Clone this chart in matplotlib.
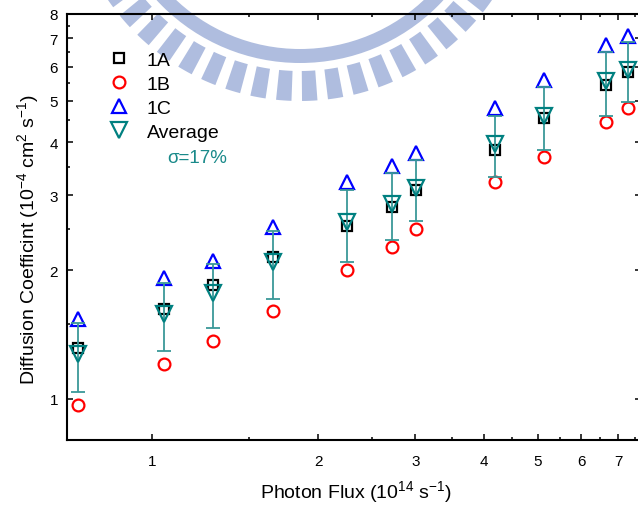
import numpy as np
import matplotlib
matplotlib.use("Agg")
import matplotlib.pyplot as plt
from matplotlib.patches import Wedge
from matplotlib.ticker import FixedLocator, NullFormatter, FixedFormatter

plt.rcParams['font.family'] = ['Liberation Sans', 'DejaVu Sans']
plt.rcParams['mathtext.fontset'] = 'custom'
plt.rcParams['mathtext.rm'] = 'Liberation Sans'
plt.rcParams['mathtext.it'] = 'Liberation Sans:italic'
plt.rcParams['mathtext.bf'] = 'Liberation Sans:bold'

# Photon flux (10^14 s^-1) and diffusion coefficient (10^-4 cm^2 s^-1) of three samples
flux = [0.734, 1.051, 1.290, 1.658, 2.259, 2.716, 3.014, 4.176, 5.145, 6.64, 7.28]
d_1a = [1.315, 1.622, 1.845, 2.144, 2.547, 2.82, 3.09, 3.832, 4.55, 5.43, 5.83]
d_1b = [0.968, 1.207, 1.366, 1.604, 2.00, 2.263, 2.506, 3.226, 3.69, 4.45, 4.80]
d_1c = [1.537, 1.915, 2.099, 2.533, 3.226, 3.516, 3.77, 4.80, 5.58, 6.77, 7.11]

x_ticks = [1, 2, 3, 4, 5, 6, 7]
y_ticks = [1, 2, 3, 4, 5, 6, 7, 8]
minor_ticks = [1.5, 2.5, 3.5, 4.5, 5.5, 6.5, 7.5]

samples = np.array([d_1a, d_1b, d_1c])
d_avg = samples.mean(axis=0)
d_std = samples.std(axis=0)

W, H = 638, 506
fig = plt.figure(figsize=(W / 100, H / 100), dpi=100)

# faint seal in the page background
bg = fig.add_axes([0, 0, 1, 1], zorder=0)
bg.set_xlim(0, W)
bg.set_ylim(H, 0)
bg.axis('off')
seal = '#afbddf'
cx, cy = 300, -131
bg.add_patch(Wedge((cx, cy), 195, 0, 180, width=14, color=seal, lw=0))
for th in np.arange(94.0 - 6.4 * 12, 180, 6.4):
    bg.add_patch(Wedge((cx, cy), 233, th - 1.9, th + 1.9, width=30, color=seal, lw=0))

ax = fig.add_axes([67 / W, (H - 441) / H, 574 / W, 426.3 / H], zorder=1)
ax.set_facecolor('none')
ax.set_xscale('log')
ax.set_yscale('log')
ax.set_xlim(0.7, 7.7)
ax.set_ylim(0.8, 8)

ax.plot(flux, d_1a, 's', ms=7.5, mfc='none', mec='black', mew=1.6, label='1A')
ax.plot(flux, d_1b, 'o', ms=8.5, mfc='none', mec='#ff0000', mew=1.6, label='1B')
ax.plot(flux, d_1c, '^', ms=10.5, mfc='none', mec='#0000ff', mew=1.6, label='1C')
ax.errorbar(flux, d_avg, yerr=d_std, fmt='none', ecolor='#3a9898',
            elinewidth=1.3, capsize=5, capthick=1.3)
ax.plot(flux, d_avg, 'v', ms=11, mfc='none', mec='#008080', mew=1.6, label='Average')

ax.xaxis.set_major_locator(FixedLocator(x_ticks))
ax.xaxis.set_major_formatter(FixedFormatter([str(t) for t in x_ticks]))
ax.xaxis.set_minor_locator(FixedLocator(minor_ticks))
ax.xaxis.set_minor_formatter(NullFormatter())
ax.yaxis.set_major_locator(FixedLocator(y_ticks))
ax.yaxis.set_major_formatter(FixedFormatter([str(t) for t in y_ticks]))
ax.yaxis.set_minor_locator(FixedLocator(minor_ticks))
ax.yaxis.set_minor_formatter(NullFormatter())

ax.tick_params(which='both', direction='in', top=True, right=True, width=1.1)
ax.tick_params(which='major', length=4.5, labelsize=11)
ax.tick_params(which='minor', length=2.5)
ax.tick_params(axis='x', which='major', pad=10)
ax.tick_params(axis='y', which='major', pad=6.5)
for s in ax.spines.values():
    s.set_linewidth(1.5)

leg = ax.legend(loc='upper left', bbox_to_anchor=(109 / W, (H - 52) / H),
                bbox_transform=fig.transFigure, frameon=False, fontsize=14,
                handlelength=1.0, handletextpad=0.95, borderpad=0,
                labelspacing=0.34, borderaxespad=0)

fig.text(167 / W, (H - 159) / H, 'σ=17%', color='#1a8a8a', fontsize=13.5,
         ha='left', va='center')
fig.text(356 / W, (H - 492) / H, 'Photon Flux (10$^{14}$ s$^{-1}$)',
         fontsize=14, ha='center', va='center')
fig.text(28 / W, (H - 240) / H,
         'Diffusion Coefficint (10$^{-4}$ cm$^{2}$ s$^{-1}$)',
         fontsize=14, ha='center', va='center', rotation=90)

fig.savefig('out.png', dpi=100)
